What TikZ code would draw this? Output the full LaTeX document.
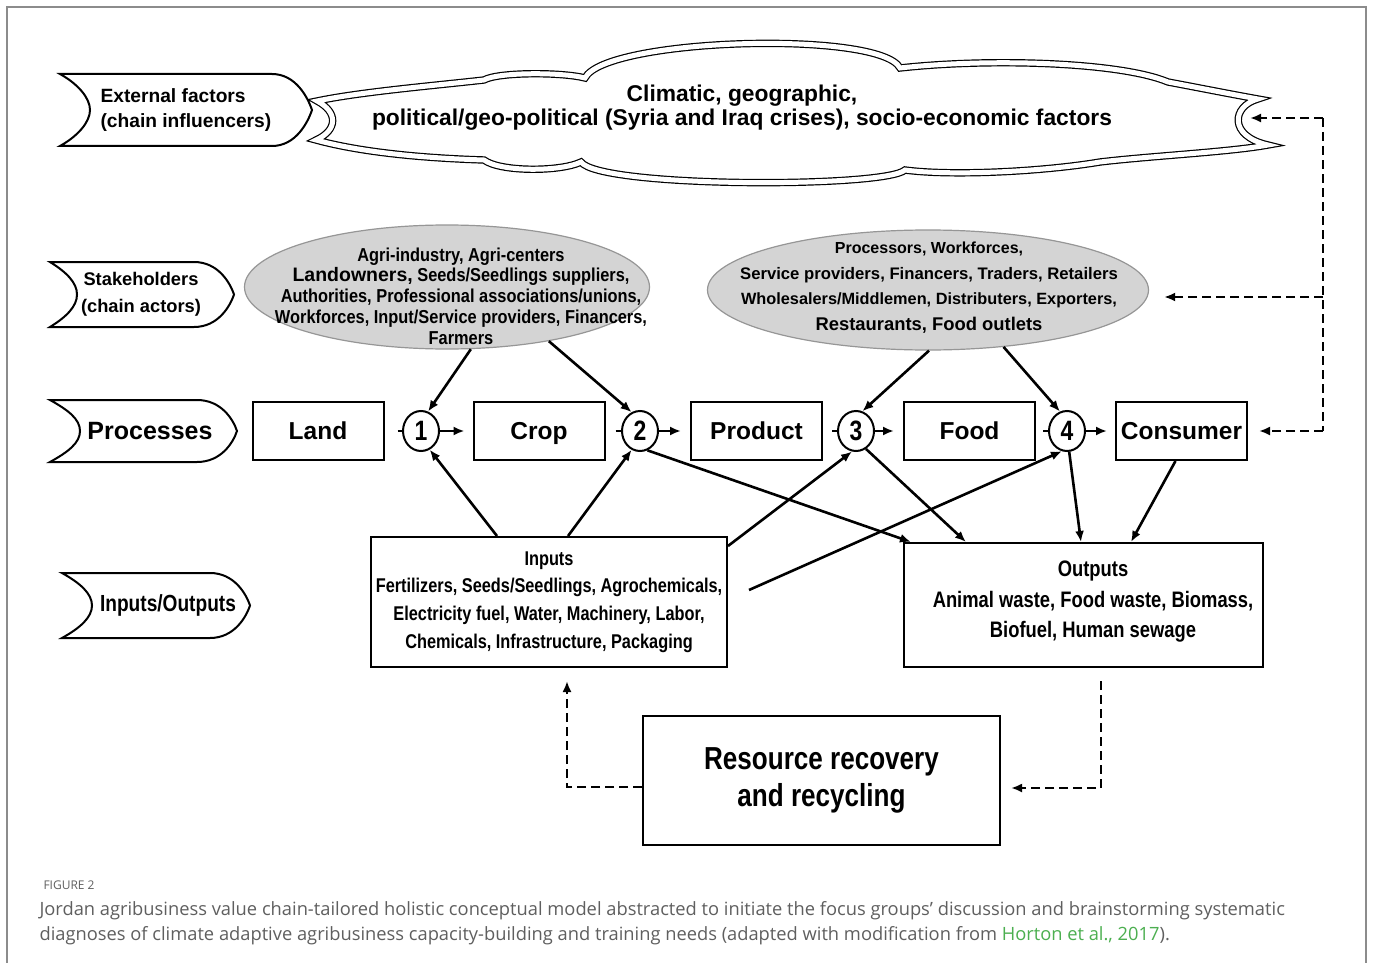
\documentclass[tikz,border=0pt]{standalone}
\usepackage{fontspec}
\setmainfont{Liberation Sans}
\newfontfamily\nar{Liberation Sans}[FakeStretch=0.876]
\newfontfamily\narr{Liberation Sans}[FakeStretch=0.82]
\newfontfamily\capfont{Open Sans}
\usetikzlibrary{shapes.geometric,arrows.meta}
\newcommand{\setfs}[1]{\fontsize{#1}{#1}\selectfont}
\definecolor{ellfill}{RGB}{212,212,212}
\definecolor{ellline}{RGB}{150,150,150}
\definecolor{capgray}{RGB}{95,95,95}
\definecolor{linkgreen}{RGB}{76,175,80}
\definecolor{framegray}{RGB}{140,140,140}
\newcommand{\chevron}[5]{%
  \draw[chevline] (#1,#2) -- ({#3-40},#2)
    .. controls ({#3-16},#2) and ({#3-4},{(#2+#4)/2-12}) .. (#3,{(#2+#4)/2})
    .. controls ({#3-4},{(#2+#4)/2+12}) and ({#3-16},#4) .. ({#3-40},#4)
    -- (#1,#4)
    .. controls ({#1+#5*0.6},{#4-10}) and ({#1+#5},{(#2+#4)/2+12}) .. ({#1+#5},{(#2+#4)/2})
    .. controls ({#1+#5},{(#2+#4)/2-12}) and ({#1+#5*0.6},{#2+10}) .. (#1,#2) -- cycle;}
\begin{document}
\begin{tikzpicture}[x=1pt,y=-1pt,
  pbox/.style={draw, line width=2pt, minimum width=131pt, minimum height=58pt, inner sep=0pt, text height=17pt, text depth=0pt, font=\bfseries\setfs{24.5}},
  num/.style={draw, ellipse, line width=2pt, minimum width=36pt, minimum height=40pt, inner sep=0pt, fill=white, font=\narr\bfseries\setfs{28}},
  conn/.style={line width=2.6pt},
  arr/.style={line width=2.6pt, -{Latex[length=11pt,width=9pt]}},
  dsh/.style={line width=2.2pt, dash pattern=on 9pt off 5pt},
  dsharr/.style={dsh, -{Latex[length=11pt,width=9pt]}},
  chevline/.style={line width=2pt, fill=white},
  stake/.style={ellipse, draw=ellline, line width=1.2pt, fill=ellfill, inner sep=0pt},
  iobox/.style={draw, line width=2pt, inner sep=0pt},
  cloudline/.style={line width=1.2pt, double=white, double distance=5pt}
]
\useasboundingbox (0,0) rectangle (1373,963);
\fill[white] (0,0) rectangle (1373,963);
% outer frame
\draw[framegray, line width=1.5pt] (7,963) -- (7,7) -- (1366,7) -- (1366,963);

% chevrons
\chevron{60}{74}{312}{146}{30}
\chevron{50}{262}{234}{327}{27}
\chevron{50}{400}{237}{462}{30}
\chevron{62}{573}{250}{638}{30}
\node[anchor=west, align=left, font=\bfseries\fontsize{19.2}{25}\selectfont] (extlab) at (97,110) {External factors\\(chain influencers)};
\node[align=center, font=\bfseries\fontsize{18.3}{27}\selectfont] (stklab) at (141,294) {Stakeholders\\(chain actors)};
\node[font=\bfseries\setfs{25}] (prclab) at (150,431) {Processes};
\node[font=\narr\bfseries\setfs{23.3}] (iolab) at (168,605) {Inputs/Outputs};

% cloud
\draw[cloudline] (317,101) .. controls (360,92) and (430,86) .. (484,80)
 .. controls (498,72) and (562,72) .. (585,78)
 .. controls (605,38) and (880,30) .. (900,68)
 .. controls (990,58) and (1120,62) .. (1168,82)
 .. controls (1200,88) and (1230,94) .. (1258,99)
 .. controls (1232,106) and (1228,136) .. (1268,145)
 .. controls (1230,152) and (1150,156) .. (1100,162)
 .. controls (1040,172) and (950,176) .. (905,170)
 .. controls (885,188) and (600,188) .. (581,162)
 .. controls (560,172) and (500,172) .. (484,160)
 .. controls (420,158) and (360,152) .. (316,140)
 .. controls (338,130) and (338,112) .. (317,101) -- cycle;
\node[align=center, font=\bfseries\fontsize{22.8}{24}\selectfont] (ext) at (742,108) {Climatic, geographic,\\political/geo-political (Syria and Iraq crises), socio-economic factors};
\coordinate (cloudR) at (1250,118);

% stakeholder ellipses
\node[stake, minimum width=405pt, minimum height=124pt] (lel) at (447,287) {};
\node[stake, minimum width=441pt, minimum height=120pt] (rel) at (928,290) {};
\node[align=center, font=\nar\bfseries\fontsize{18.7}{20.75}\selectfont] (lelt) at (461,296) {Agri-industry, Agri-centers\\{\rmfamily\fontsize{19.5}{20.75}\selectfont Landowners,} Seeds/Seedlings suppliers,\\Authorities, Professional associations/unions,\\Workforces, Input/Service providers, Financers,\\Farmers};
\node[align=center, font=\bfseries\fontsize{16.7}{25.7}\selectfont] (relt) at (929,287.5) {{\fontsize{16}{25.7}\selectfont Processors, Workforces,}\\Service providers, Financers, Traders, Retailers\\{\fontsize{16.3}{25.7}\selectfont Wholesalers/Middlemen, Distributers, Exporters,}\\{\fontsize{18.4}{25.7}\selectfont Restaurants, Food outlets}};

% process row
\node[pbox] (land) at (318,431) {Land};
\node[pbox] (crop) at (539,431) {Crop};
\node[pbox] (prod) at (756.5,431) {Product};
\node[pbox] (food) at (969.5,431) {Food};
\node[pbox] (cons) at (1181.5,431) {Consumer};
\node[num] (c1) at (421,431) {1};
\node[num] (c2) at (640,431) {2};
\node[num] (c3) at (856,431) {3};
\node[num] (c4) at (1067,431) {4};
\draw[conn, shorten <=13pt] (land) -- (c1);
\draw[arr, shorten >=8pt] (c1) -- (crop);
\draw[conn, shorten <=10pt] (crop) -- (c2);
\draw[arr, shorten >=9pt] (c2) -- (prod);
\draw[conn, shorten <=9pt] (prod) -- (c3);
\draw[arr, shorten >=9pt] (c3) -- (food);
\draw[conn, shorten <=7pt] (food) -- (c4);
\draw[arr, shorten >=8pt] (c4) -- (cons);

% inputs / outputs / recovery
\node[iobox, minimum width=356pt, minimum height=130pt, align=center, font=\narr\bfseries\fontsize{19.9}{27.7}\selectfont] (inp) at (549,602) {Inputs\\Fertilizers, Seeds/Seedlings, Agrochemicals,\\Electricity fuel, Water, Machinery, Labor,\\Chemicals, Infrastructure, Packaging};
\node[iobox, minimum width=359pt, minimum height=124pt] (out) at (1083.5,605) {};
\node[align=center, font=\narr\bfseries\fontsize{22.4}{30.5}\selectfont] (outt) at (1093,602) {Outputs\\Animal waste, Food waste, Biomass,\\Biofuel, Human sewage};
\node[iobox, minimum width=357pt, minimum height=129pt, align=center, font=\narr\bfseries\fontsize{31.8}{37}\selectfont] (rr) at (821.5,780.5) {Resource recovery\\and recycling};

% stakeholder arrows
\draw[arr] (lel.-69) -- (c1.70);
\draw[arr] (lel.-28) -- (c2.114);
\draw[arr] (rel.-89) -- (c3.72);
\draw[arr] (rel.-37) -- (c4.110);

% input arrows
\draw[arr] ([xshift=-52pt]inp.north) -- (c1.-65);
\draw[arr] ([xshift=19pt]inp.north) -- (c2.-114);
\draw[arr] ([yshift=-10pt]inp.north east) -- (c3.-101);
\draw[arr] ([xshift=21pt,yshift=12pt]inp.east) -- (c4.-104);

% output arrows
\draw[arr] (c2.-69) -- ([xshift=8pt]out.north west);
\draw[arr] (c3.-61) -- ([xshift=63pt]out.north west);
\draw[arr] (c4.-84) -- ([xshift=178pt]out.north west);
\draw[arr] ([xshift=-6pt]cons.south) -- ([xshift=228pt]out.north west);

% recycling loop
\draw[dsharr, shorten >=13pt] ([yshift=-6.5pt]rr.west) -| ([xshift=18pt]inp.south);
\draw[dsharr, shorten <=13pt, shorten >=10pt] ([xshift=17.5pt]out.south) |- ([yshift=-7.5pt]rr.east);

% feedback
\coordinate (fbt) at (1323,118);
\coordinate (fbm) at (1323,297);
\coordinate (fbb) at (1323,431);
\draw[dsh] (fbt) -- (fbb);
\draw[dsharr] (fbt) -- (cloudR);
\draw[dsharr, shorten >=15pt] (fbm) -- (rel.east |- fbm);
\draw[dsharr, shorten >=11pt] (fbb) -- (cons);

% caption
\node[anchor=west, text=capgray, font=\capfont\setfs{12}] (figno) at (40,885) {FIGURE 2};
\node[anchor=north west, align=left, text=capgray, font=\capfont\fontsize{18.3}{25}\selectfont] (cap) at (36,898) {Jordan agribusiness value chain-tailored holistic conceptual model abstracted to initiate the focus groups’ discussion and brainstorming systematic\\diagnoses of climate adaptive agribusiness capacity-building and training needs (adapted with modification from \textcolor{linkgreen}{Horton et al., 2017}).};
\end{tikzpicture}
\end{document}
